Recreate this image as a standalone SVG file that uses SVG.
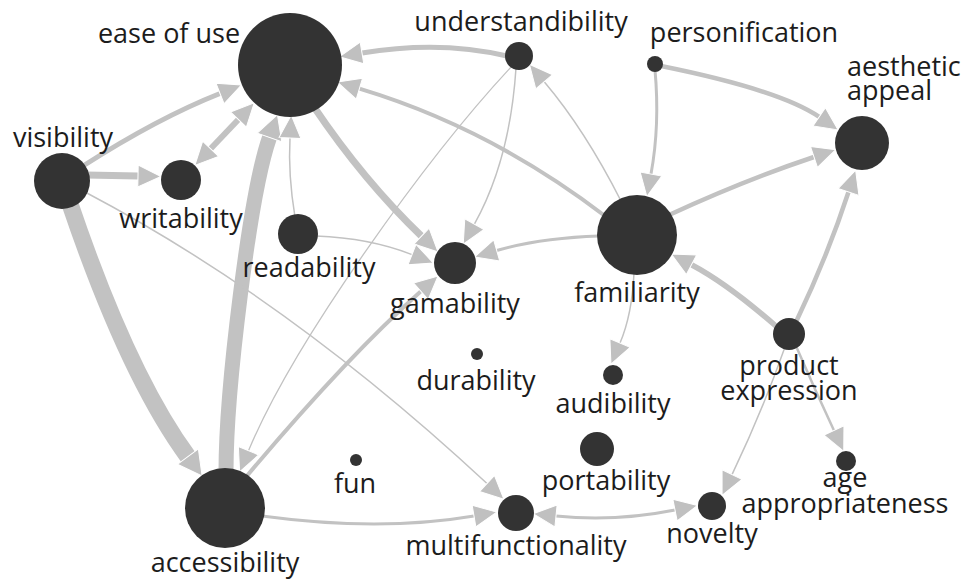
<svg xmlns="http://www.w3.org/2000/svg" width="969" height="586" viewBox="0 0 969 586">
  <style>
    .node { fill: #333333; }
    .label { font-family: "Open Sans", "Noto Sans", "DejaVu Sans", sans-serif; font-size: 27px; fill: #1c1c1c; }
    .mid { text-anchor: middle; }
    .edge { fill: none; stroke: #c2c2c2; stroke-linecap: butt; marker-end: url(#arrow); }
    .heavy { marker-end: url(#arrowL); }
    .both { marker-start: url(#arrow); }
  </style>
  <defs>
    <marker id="arrow" markerUnits="userSpaceOnUse" viewBox="-1 -1 25 24" markerWidth="25" markerHeight="24" refX="0" refY="11" orient="auto-start-reverse" overflow="visible">
      <path d="M0,0 L23,11 L0,22 Z" fill="#c0c0c0" stroke="#ffffff" stroke-width="1"/>
    </marker>
    <marker id="arrowL" markerUnits="userSpaceOnUse" viewBox="-1 -1 26 28" markerWidth="26" markerHeight="28" refX="0" refY="13" orient="auto" overflow="visible">
      <path d="M0,0 L24,13 L0,26 Z" fill="#c0c0c0" stroke="#ffffff" stroke-width="1"/>
    </marker>
  </defs>

  <rect width="969" height="586" fill="#ffffff"/>

  <!-- connectors: stroke width reflects link strength -->
  <g id="connectors">
    <path class="edge" stroke-width="5" d="M507,56 Q440,40 362,53"/>
    <path class="edge" stroke-width="5" d="M83,166 Q158,118 220,93.5"/>
    <path class="edge both" stroke-width="6" d="M210.6,148.8 L238.4,119.5"/>
    <path class="edge" stroke-width="7" d="M86,175 L138,176"/>
    <path class="edge heavy" stroke-width="17" d="M70,204 Q128,375 187.9,456.6"/>
    <path class="edge heavy" stroke-width="15" d="M226,472 C226,390 249.7,194 269.5,137.4"/>
    <path class="edge" stroke-width="4" d="M246,477 Q347,357 420.9,291.3"/>
    <path class="edge" stroke-width="1.3" d="M512,66 C428,156 294.7,340 248.5,450.7"/>
    <path class="edge" stroke-width="1.5" d="M295,217 Q288,175 290,138"/>
    <path class="edge" stroke-width="7" d="M314,107 Q364,181 421.5,236.1"/>
    <path class="edge" stroke-width="1.5" d="M316,236 Q370,238 412,254.6"/>
    <path class="edge" stroke-width="1.5" d="M516,68 Q510,160 474.4,224.1"/>
    <path class="edge" stroke-width="3" d="M599,236 Q540,238 496.7,250.5"/>
    <path class="edge" stroke-width="4" d="M605,216 Q490,128 359.4,88.7"/>
    <path class="edge" stroke-width="1.5" d="M621,201 Q585,130 544.2,81.8"/>
    <path class="edge" stroke-width="3" d="M655,70 Q660,125 651,174"/>
    <path class="edge" stroke-width="4.5" d="M661,66 Q780,90 819.2,116.9"/>
    <path class="edge" stroke-width="4.5" d="M669,215 Q745,180 814,157"/>
    <path class="edge" stroke-width="4.5" d="M796,322 Q828,255 848.5,192"/>
    <path class="edge" stroke-width="5.5" d="M777,327 Q728,284 691.5,264.7"/>
    <path class="edge" stroke-width="1.5" d="M634,273 Q632,315 620,343"/>
    <path class="edge" stroke-width="2.5" d="M796,346 Q815,390 834,430.5"/>
    <path class="edge" stroke-width="1.5" d="M785,347 Q762,412 732,474.6"/>
    <path class="edge both" stroke-width="3" d="M556,516 Q615,522 675,510"/>
    <path class="edge" stroke-width="3" d="M262,516 Q380,532 474,516"/>
    <path class="edge" stroke-width="1.5" d="M85,192 Q290,300 487,483.5"/>
  </g>

  <!-- nodes: circle area reflects weight -->
  <g id="node-ease-of-use"><circle class="node" cx="290" cy="65" r="52"/><text class="label mid" x="169" y="43">ease of use</text></g>
  <g id="node-understandibility"><circle class="node" cx="519" cy="56" r="14"/><text class="label mid" x="521" y="31">understandibility</text></g>
  <g id="node-personification"><circle class="node" cx="655" cy="64" r="8"/><text class="label mid" x="744" y="42">personification</text></g>
  <g id="node-aesthetic-appeal"><circle class="node" cx="862" cy="143" r="27"/><text class="label" x="847" y="76">aesthetic</text><text class="label" x="847" y="100">appeal</text></g>
  <g id="node-visibility"><circle class="node" cx="62" cy="181" r="28"/><text class="label mid" x="63" y="147">visibility</text></g>
  <g id="node-writability"><circle class="node" cx="181" cy="180" r="20"/><text class="label mid" x="181" y="228">writability</text></g>
  <g id="node-readability"><circle class="node" cx="298" cy="234" r="20"/><text class="label mid" x="309" y="277">readability</text></g>
  <g id="node-gamability"><circle class="node" cx="455" cy="263" r="21"/><text class="label mid" x="455" y="313">gamability</text></g>
  <g id="node-familiarity"><circle class="node" cx="637" cy="235" r="40"/><text class="label mid" x="637" y="302">familiarity</text></g>
  <g id="node-durability"><circle class="node" cx="477" cy="354" r="6"/><text class="label mid" x="476" y="390">durability</text></g>
  <g id="node-audibility"><circle class="node" cx="613" cy="375" r="10"/><text class="label mid" x="613" y="413">audibility</text></g>
  <g id="node-product-expression"><circle class="node" cx="789" cy="334" r="16"/><text class="label mid" x="789" y="375">product</text><text class="label mid" x="789" y="400">expression</text></g>
  <g id="node-portability"><circle class="node" cx="597" cy="449" r="17"/><text class="label mid" x="606" y="490">portability</text></g>
  <g id="node-age-appropriateness"><circle class="node" cx="846" cy="461" r="10"/><text class="label mid" x="845" y="487">age</text><text class="label mid" x="845" y="513">appropriateness</text></g>
  <g id="node-fun"><circle class="node" cx="356" cy="460" r="6"/><text class="label mid" x="355" y="493">fun</text></g>
  <g id="node-accessibility"><circle class="node" cx="225" cy="508" r="40"/><text class="label mid" x="225" y="572">accessibility</text></g>
  <g id="node-multifunctionality"><circle class="node" cx="516" cy="513" r="18"/><text class="label mid" x="516" y="555">multifunctionality</text></g>
  <g id="node-novelty"><circle class="node" cx="712" cy="506" r="14"/><text class="label mid" x="712" y="543">novelty</text></g>
</svg>
